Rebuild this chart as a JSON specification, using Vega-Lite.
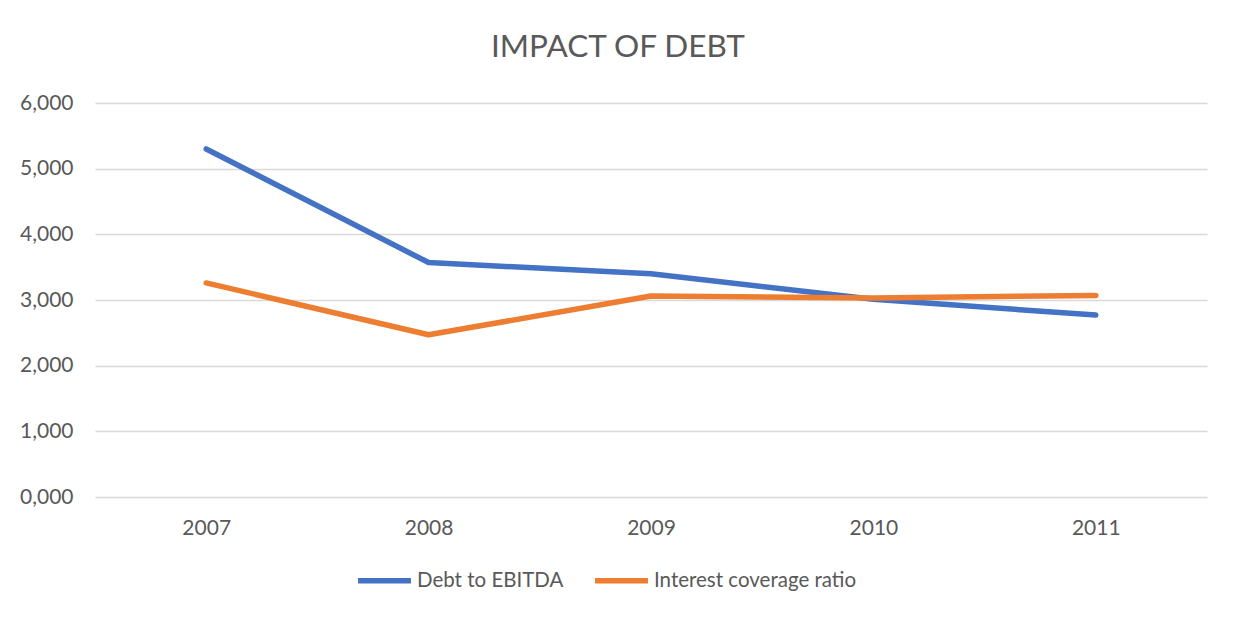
{
  "$schema": "https://vega.github.io/schema/vega-lite/v6.json",
  "autosize": {"type": "none"},
  "width": 1112,
  "height": 394,
  "padding": {"left": 95, "top": 103, "right": 29, "bottom": 122},
  "background": "white",
  "config": {
    "locale": {"number": {"decimal": ",", "thousands": ".", "grouping": [3], "currency": ["", " €"]}},
    "font": "Lato",
    "view": {"stroke": null}
  },
  "title": {
    "text": "IMPACT OF DEBT",
    "fontSize": 31.5,
    "font": "Lato",
    "fontWeight": "normal",
    "color": "#595959",
    "anchor": "middle",
    "dx": -33,
    "baseline": "alphabetic",
    "offset": 4
  },
  "data": {
    "values": [
      {"year": "2007", "series": "Debt to EBITDA", "value": 5.30},
      {"year": "2008", "series": "Debt to EBITDA", "value": 3.57},
      {"year": "2009", "series": "Debt to EBITDA", "value": 3.40},
      {"year": "2010", "series": "Debt to EBITDA", "value": 3.01},
      {"year": "2011", "series": "Debt to EBITDA", "value": 2.77},
      {"year": "2007", "series": "Interest coverage ratio", "value": 3.26},
      {"year": "2008", "series": "Interest coverage ratio", "value": 2.47},
      {"year": "2009", "series": "Interest coverage ratio", "value": 3.06},
      {"year": "2010", "series": "Interest coverage ratio", "value": 3.03},
      {"year": "2011", "series": "Interest coverage ratio", "value": 3.07}
    ]
  },
  "mark": {"type": "line", "strokeWidth": 5.5, "strokeCap": "round", "strokeJoin": "round"},
  "encoding": {
    "x": {
      "field": "year",
      "type": "ordinal",
      "scale": {"type": "point", "padding": 0.5},
      "axis": {
        "title": null,
        "labelAngle": 0,
        "domain": false,
        "ticks": false,
        "grid": false,
        "labelFontSize": 21,
        "labelColor": "#595959",
        "labelPadding": 20
      }
    },
    "y": {
      "field": "value",
      "type": "quantitative",
      "scale": {"domain": [0, 6], "nice": false},
      "axis": {
        "title": null,
        "values": [0, 1, 2, 3, 4, 5, 6],
        "format": ",.3f",
        "domain": false,
        "ticks": false,
        "grid": true,
        "gridColor": "#d9d9d9",
        "gridWidth": 1.5,
        "labelFontSize": 21,
        "labelColor": "#595959",
        "labelPadding": 22
      }
    },
    "color": {
      "field": "series",
      "type": "nominal",
      "scale": {"domain": ["Debt to EBITDA", "Interest coverage ratio"], "range": ["#4472C4", "#ED7D31"]},
      "legend": {
        "title": null,
        "orient": "none",
        "direction": "horizontal",
        "legendX": 260,
        "legendY": 448,
        "symbolType": "stroke",
        "symbolSize": 2800,
        "symbolStrokeWidth": 5.5,
        "labelFontSize": 20.5,
        "labelColor": "#595959",
        "labelOffset": 3,
        "labelLimit": 400,
        "columnPadding": 20
      }
    }
  }
}
